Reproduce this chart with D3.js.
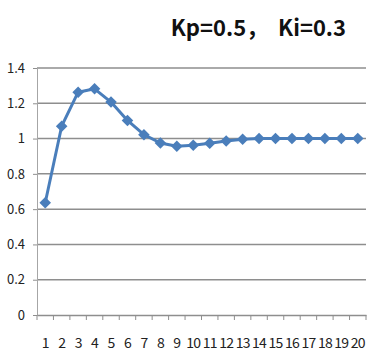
<!DOCTYPE html>
<html>
<head>
<meta charset="utf-8">
<script src="https://cdn.jsdelivr.net/npm/d3@7"></script>
<style>
  body { margin: 0; background: #fff; }
  svg { display: block; }
  .title { font-family: "Noto Sans CJK SC", "Noto Sans", sans-serif; font-weight: bold; font-size: 22px; fill: #111; }
  .axis text { font-family: "Noto Sans CJK SC", "Noto Sans", sans-serif; font-size: 13px; fill: #222; }
</style>
</head>
<body>
<div id="chart"></div>
<script>
// step response, Kp=0.5 Ki=0.3
const steps = d3.range(1, 21).map(String);
const response = [0.636, 1.07, 1.263, 1.282, 1.207, 1.103, 1.022, 0.975, 0.957, 0.962,
  0.974, 0.986, 0.996, 1.0, 1.0, 1.0, 1.0, 1.0, 1.0, 1.0];
const yTicks = [0, 0.2, 0.4, 0.6, 0.8, 1, 1.2, 1.4];
const titleText = "Kp=0.5，  Ki=0.3";

const width = 381, height = 353;
const margin = { top: 68, right: 15, bottom: 38, left: 37 };

const svg = d3.select("#chart").append("svg")
  .attr("width", width)
  .attr("height", height);

const x = d3.scaleBand()
  .domain(steps)
  .range([margin.left, width - margin.right]);

const y = d3.scaleLinear()
  .domain([0, 1.4])
  .range([height - margin.bottom, margin.top]);

svg.append("text")
  .attr("class", "title")
  .attr("x", 346)
  .attr("y", 36)
  .attr("text-anchor", "end")
  .attr("xml:space", "preserve")
  .style("white-space", "pre")
  .text(titleText);

// gridlines
svg.append("g")
  .selectAll("line")
  .data(yTicks.filter(d => d > 0))
  .enter().append("line")
    .attr("x1", margin.left)
    .attr("x2", width - margin.right)
    .attr("y1", d => y(d))
    .attr("y2", d => y(d))
    .attr("stroke", "#8e8e8e")
    .attr("stroke-width", 1.5);

// y axis
const yAxis = svg.append("g")
  .attr("class", "axis")
  .attr("transform", `translate(${margin.left},0)`)
  .call(d3.axisLeft(y).tickValues(yTicks).tickSize(4).tickPadding(8)
    .tickFormat(d => d3.format("")(+d.toFixed(1))));
yAxis.select(".domain").attr("stroke", "#a6a6a6");
yAxis.selectAll(".tick line").attr("stroke", "#8e8e8e");

// x axis
const xAxis = svg.append("g")
  .attr("class", "axis")
  .attr("transform", `translate(0,${height - margin.bottom})`)
  .call(d3.axisBottom(x).tickSize(0).tickPadding(23));
xAxis.select(".domain").attr("stroke", "#8e8e8e").attr("stroke-width", 1.5);
xAxis.selectAll(".tick text")
  .style("font-size", "14px")
  .attr("letter-spacing", "-0.8px");

// category boundary ticks
svg.append("g")
  .selectAll("line")
  .data(steps.concat(["end"]))
  .enter().append("line")
    .attr("x1", (d, i) => i < steps.length ? x(d) : x(steps[steps.length - 1]) + x.bandwidth())
    .attr("x2", (d, i) => i < steps.length ? x(d) : x(steps[steps.length - 1]) + x.bandwidth())
    .attr("y1", y(0))
    .attr("y2", y(0) + 5)
    .attr("stroke", "#8e8e8e")
    .attr("stroke-width", 1);

const cx = (d, i) => x(steps[i]) + x.bandwidth() / 2;

svg.append("path")
  .datum(response)
  .attr("fill", "none")
  .attr("stroke", "#4a7ebb")
  .attr("stroke-width", 3)
  .attr("stroke-linejoin", "round")
  .attr("d", d3.line().x(cx).y(d => y(d)));

svg.append("g")
  .selectAll("path")
  .data(response)
  .enter().append("path")
    .attr("d", d3.symbol(d3.symbolDiamond2, 85))
    .attr("transform", (d, i) => `translate(${cx(d, i)},${y(d)})`)
    .attr("fill", "#4a7ebb");
</script>
</body>
</html>
